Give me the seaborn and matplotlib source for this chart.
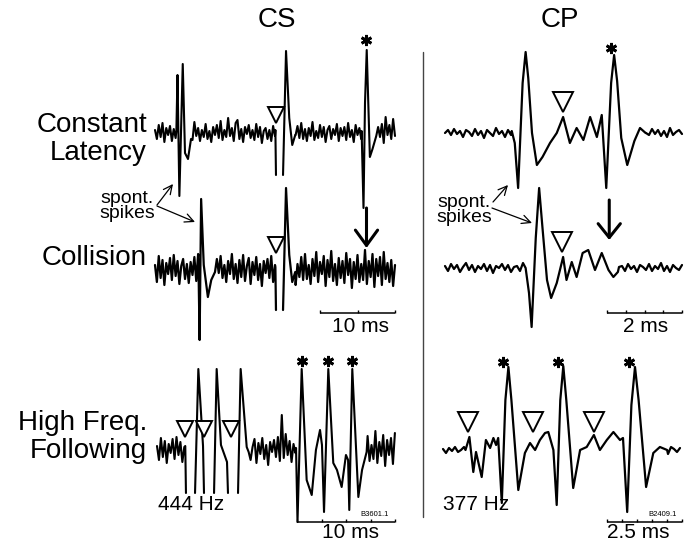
import numpy as np
import pandas as pd
import matplotlib
matplotlib.use("Agg")
import matplotlib.pyplot as plt
import seaborn as sns

sns.set_style("white")
plt.rcParams["font.family"] = ["Liberation Sans", "DejaVu Sans"]
plt.rcParams["text.color"] = "black"

# ---------------- data (time in ms, amplitude in arbitrary units) ----------------
# CS, constant latency
cs1_step = 0.25
cs1_noise = [3,-6,8,-4,10,-9,5,-2,7,-8, 4,-5,9,-3,6,-10,2,8,-6,4, -7,11,-3,5,-8,3,-4,9,-6,2,
             -9,6,-2,8,-5,12,-7,3,-4,15, -3,5,-8,10,13,-6,4,-9,6,-1, 8,-5,3,-7,9,-4,6,-10,2,5,
             -6,3,-8,7,-3,4,-5,9,-7,2, 6,-4,8,-9,3,-2,7,-5,10,-6, 4,-8,5,-3,11,-7,2,-5,8,-4,
             6,-9,3,7,-6,4,-2,9,-8,5, -3,6,-7,10,-4,3,-9,8,-2,5, -6,12,-5,7,-8,4,-3,13,-7,6,
             -4,9,-10,16,-2,8,-6,14,-3]
cs1_events = [
    ([2.85, 3.0, 3.25, 3.7, 4.0, 4.4, 4.8], [2, 58, -63, 69, -20, -26, -6]),
    ([16.05, 16.13, None, 17.07, 17.47, 17.9, 18.3, 18.7], [3, -42, None, -42, 82, 15, -12, -2]),
    ([27.55, 27.8, 28.0, 28.23, 28.65, 29.0, 29.5], [2, -75, 30, 83, -24, -16, -3]),
]
cs1_triangles_t, cs1_triangles_v = [16.07], [18]
cs1_stars_t, cs1_stars_v = [28.15], [93]

# CS, collision
cs2_step = 0.25
cs2_noise = [5,-12,14,-8,10,-15,7,-4,12,-10, 15,-6,9,-14,4,11,-9,6,-13,8, -5,13,-11,16,-7,3,-14,10,-6,12,
             -10,7,-15,11,-3,14,-8,5,-12,9, -4,16,-9,6,-13,10,-7,15,-11,4, 12,-14,8,-5,13,-10,6,-16,9,-3,
             11,-8,14,-12,5,-9,17,-6,10,-13, 7,-4,15,-11,9,-15,6,-7,13,-10, 16,-9,5,-14,11,-6,18,-12,8,-4,
             14,-16,10,-7,19,-11,6,-15,12,-8, 9,-13,17,-5,11,-18,8,-9,15,-12, 6,-10,20,-14,9,-7,16,-17,11,-6,
             13,-15,18,-9,7,-12,10,-16,5]
cs2_events = [
    ([5.8, 5.95, 6.15, 6.5, 7.05, 7.5, 8.0], [2, -70, 71, 5, -27, -10, -2]),
    ([16.05, 16.13, None, 17.07, 17.47, 17.9, 18.3, 18.7], [3, -40, None, -40, 82, 15, -12, -2]),
]
cs2_triangles_t, cs2_triangles_v = [16.07], [25]
cs2_arrow_t, cs2_arrow_from, cs2_arrow_to = 28.2, 62, 22
cs2_bar = (22.0, 10.0, -43)      # start, length (ms), level

# CS, high frequency following
cs3_step = 0.2
cs3_noise = [4,-10,12,-7,9,-13,6,-3,11,-9, 13,-5,8,-12,3,10,-8,5,-11,7, -4,12,-10,14,-6,2,-13,9,-5,11,
             -9,6,-14,10,-2,13,-7,4,-11,8, -3,15,-8,5,-12,9,-6,14,-10,3, 11,-13,7,-4,12,-9,5,-15,8,-2,
             10,-7,13,-11,35,-8,16,-5,9,-12, 6,-3,14,-10,8,-14,5,-6,12,-9, 15,-8,4,-13,10,-5,17,-11,7,-3,
             13,-15,9,-6,18,-10,5,-14,11,-7, 8,-12,16,-4,10,-17,7,-8,14,-11, 5,-9,19,-13,8,-6,15,-16,10,-5,
             12,-14,17]
cs3_events = [
    ([2.9, 2.97, None, 3.9, 4.24, 4.72, 4.82, None, 5.85, 6.12, 6.56, 7.18, 7.28, None, 8.31, 8.58, 9.2, 9.4],
     [4, -43, None, -43, 81, 4, -43, None, -43, 81, 5, -12, -43, None, -43, 81, 3, -2]),
    ([14.26, 14.41, 14.84, 15.35, 15.87, 16.3, 16.72, 16.92, 17.13, 17.57, 18.08, 18.46, 18.94, 19.38,
      19.6, 19.72, 20.03, 20.65, 21.03, 21.5],
     [2, -72, 81, -30, -45, 0, 20, 5, -62, 81, -13, -20, -37, -5, -10, -60, 81, -47, -20, -2]),
]
cs3_triangles_t, cs3_triangles_v = [2.92, 4.77, 7.54], [21, 21, 21]
cs3_stars_t, cs3_stars_v = [14.87, 17.54, 20.0], [89, 89, 89]
cs3_bar = (14.41, 10.0, -72)

# CP, constant latency
cp1_step = 0.08
cp1_noise = [0,3,-2,4,-1,2,-4,3,1,-3, 4,-2,2,-5,3,0,-3,5,-1,2, -4,3,-2,4,0,-3,2,-1,3,-4,
             2,5,-2,1,-3,4,-2,3,-1,2, -3,4,-1,2,-4,3,0,-2,4,-3, 1,3,-2,5,-1,2,-4,3,-2,1,
             4,-3,2,-1,3,-4,2,0,-2,4, -1,3,-3,2,-4,5,-2,1,3,-1]
cp1_events = [
    ([1.78, 1.86, 1.95, 2.07, 2.15, 2.22, 2.32, 2.45, 2.6, 2.8, 2.98, 3.15, 3.33, 3.51, 3.69, 3.87,
      4.05, 4.18, 4.3, 4.43, 4.51, 4.59, 4.7, 4.86, 5.05, 5.2, 5.35],
     [2, -10, -55, 50, 81, 55, 0, -32, -24, -10, 0, 16, -10, 5, -7, 16,
      -4, 18, -55, 50, 78, 52, -5, -32, -8, 5, 0]),
]
cp1_triangles_t, cp1_triangles_v = [3.14], [31]
cp1_stars_t, cp1_stars_v = [4.42], [85]

# CP, collision
cp2_step = 0.08
cp2_noise = [2,-3,4,-1,3,-4,1,5,-2,3, -4,2,-1,4,-3,3,-5,2,0,4, -2,3,-4,1,2,-3,5,-1,-3,4,
             -2,1,3,-4,2,-1,4,-3,2,0, -3,5,-2,3,-1,-4,2,4,-2,1, 3,-4,2,-1,4,-2,3,-5,1,2,
             -3,4,-1,2,-4,3,1,-2,4,-3, 2,-1,5,-3,2,-4,3,0,-2,3]
cp2_events = [
    ([2.15, 2.24, 2.31, 2.42, 2.51, 2.6, 2.72, 2.83, 2.98, 3.15, 3.24, 3.38, 3.51, 3.67, 3.82,
      4.0, 4.18, 4.36, 4.49, 4.61],
     [0, -25, -59, 30, 80, 40, -12, -30, -15, 11, -12, 6, -9, 15, 18, -2, 15, -2, -9, -4]),
]
cp2_triangles_t, cp2_triangles_v = [3.11], [26]
cp2_arrow_t, cp2_arrow_from, cp2_arrow_to = 4.38, 68, 28
cp2_bar = (4.32, 2.0, -45)

# CP, high frequency following
cp3_step = 0.1
cp3_noise = [1,-3,2,-1,3,-2,0,3,-3,2, -1,4,-2,1,-3,2,3,-1,-2,4, -3,2,0,-2,3,-1,4,-3,2,-1,
             3,-2,1,-4,2,3,-1,-2,4,-3, 1,2,-3,3,-1,0,4,-2,1,-3, 2,-1,3,-4,2,1,-2,3,-1,4,
             -3,2,-2,1,3,-1,-2,4,-3,2, 0,-1,3,-2,2,-4,3,1,-2,2]
cp3_events = [
    ([0.75, 0.88, 1.01, 1.1, 1.29, 1.43, 1.57, 1.68, 1.77, 1.84, 1.96, 2.08, 2.18, 2.28, 2.51, 2.73,
      2.9, 3.07, 3.23, 3.4, 3.51, 3.68, 3.79, 3.91, 4.01, 4.11, 4.34, 4.57, 4.79, 5.03, 5.23, 5.46,
      5.68, 5.9, 6.0, 6.14, 6.28, 6.4, 6.52, 6.77, 7.01, 7.23, 7.47],
     [0, 13, -22, -2, -27, 10, 2, 12, 5, 12, -53, 50, 83, 50, -40, -3,
      7, 0, 10, 17, 18, 0, -55, 50, 84, 50, -38, 0, 3, 15, 0, 10,
      18, 10, 12, -62, 45, 83, 50, -37, -3, 3, 0]),
]
cp3_triangles_t, cp3_triangles_v = [0.84, 3.01, 5.03], [28, 28, 28]
cp3_stars_t, cp3_stars_v = [2.01, 3.84, 6.21], [88, 88, 88]
cp3_bar = (5.47, 2.5, -72)

row_labels = ["Constant\nLatency", "Collision", "High Freq.\nFollowing"]
col_titles = ["CS", "CP"]

# ---------------- figure ----------------
W, H = 694, 544
fig = plt.figure(figsize=(W / 100, H / 100), dpi=100)


def build(noise, step, events):
    t = np.arange(len(noise)) * step
    pts = []
    i = 0
    for et, ev in sorted(events, key=lambda e: e[0][0]):
        while i < len(t) and t[i] < et[0]:
            pts.append((t[i], noise[i]))
            i += 1
        for a, b in zip(et, ev):
            pts.append(None if a is None else (a, b))
        hi = max(x for x in et if x is not None)
        while i < len(t) and t[i] <= hi:
            i += 1
    while i < len(t):
        pts.append((t[i], noise[i]))
        i += 1
    rows, seg = [], 0
    for p in pts:
        if p is None:
            seg += 1
            continue
        rows.append((p[0], p[1], seg))
    return pd.DataFrame(rows, columns=["t", "v", "seg"])


def panel(x0, px_ms, base, width_ms, top, bot):
    ax = fig.add_axes([x0 / W, 1 - bot / H, width_ms * px_ms / W, (bot - top) / H])
    return ax, (0, width_ms), (base - bot, base - top)


def draw_trace(ax, lims, noise, step, events, lw):
    df = build(noise, step, events)
    sns.lineplot(data=df, x="t", y="v", units="seg", estimator=None, sort=False,
                 color="black", lw=lw, ax=ax, legend=False, clip_on=False)
    ax.set_xlim(*lims[0])
    ax.set_ylim(*lims[1])
    ax.set_axis_off()


def triangles(ax, ts, vs, ms):
    ax.plot(ts, vs, ls="none", marker="v", ms=ms, mfc="white", mec="black", mew=1.4,
            clip_on=False, zorder=5)


def stars(ax, ts, vs, ms):
    ax.plot(ts, vs, ls="none", marker=(6, 2, 0), ms=ms, mec="black", mew=2.0,
            clip_on=False, zorder=5)


def scalebar(ax, bar, tick_step, tick_h=3.5):
    s, length, lev = bar
    ax.hlines(lev, s, s + length, color="black", lw=1.1, clip_on=False)
    ticks = np.arange(0, length + 1e-6, tick_step) + s
    ax.vlines(ticks, lev, lev + tick_h, color="black", lw=1.0, clip_on=False)


def ftext(px, py, s, **kw):
    fig.text(px / W, 1 - py / H, s, color="black", **kw)


def fig_arrow(p0, p1, lw=0.9, head="->,head_length=0.45,head_width=0.22", ms=14):
    fig.add_artist(matplotlib.patches.FancyArrowPatch(
        (p0[0] / W, 1 - p0[1] / H), (p1[0] / W, 1 - p1[1] / H),
        transform=fig.transFigure, arrowstyle=head, mutation_scale=ms,
        lw=lw, color="black", shrinkA=0, shrinkB=0))


# CS panels
ax1, *l1 = panel(155, 7.5, 133, 32, 30, 200)
draw_trace(ax1, l1, cs1_noise, cs1_step, cs1_events, 1.5)
triangles(ax1, cs1_triangles_t, cs1_triangles_v, 11.5)
stars(ax1, cs1_stars_t, cs1_stars_v, 8)

ax2, *l2 = panel(155, 7.5, 270, 32, 200, 340)
draw_trace(ax2, l2, cs2_noise, cs2_step, cs2_events, 1.6)
triangles(ax2, cs2_triangles_t, cs2_triangles_v, 11.5)
ax2.annotate("", xy=(cs2_arrow_t, cs2_arrow_to), xytext=(cs2_arrow_t, cs2_arrow_from),
             arrowprops=dict(arrowstyle="->,head_length=0.55,head_width=0.4", mutation_scale=20,
                             lw=2.2, color="black", shrinkA=0, shrinkB=0), annotation_clip=False)
scalebar(ax2, cs2_bar, 5.0)

ax3, *l3 = panel(157, 9.75, 450, 24.41, 350, 544)
draw_trace(ax3, l3, cs3_noise, cs3_step, cs3_events, 1.5)
triangles(ax3, cs3_triangles_t, cs3_triangles_v, 11.5)
stars(ax3, cs3_stars_t, cs3_stars_v, 8)
scalebar(ax3, cs3_bar, 2.5)

# CP panels
ax4, *l4 = panel(445, 37.5, 133, 6.32, 30, 200)
draw_trace(ax4, l4, cp1_noise, cp1_step, cp1_events, 1.6)
triangles(ax4, cp1_triangles_t, cp1_triangles_v, 14)
stars(ax4, cp1_stars_t, cp1_stars_v, 8)

ax5, *l5 = panel(445, 37.5, 268, 6.32, 200, 340)
draw_trace(ax5, l5, cp2_noise, cp2_step, cp2_events, 1.6)
triangles(ax5, cp2_triangles_t, cp2_triangles_v, 14)
ax5.annotate("", xy=(cp2_arrow_t, cp2_arrow_to), xytext=(cp2_arrow_t, cp2_arrow_from),
             arrowprops=dict(arrowstyle="->,head_length=0.5,head_width=0.4", mutation_scale=20,
                             lw=2.2, color="black", shrinkA=0, shrinkB=0), annotation_clip=False)
scalebar(ax5, cp2_bar, 0.5)

ax6, *l6 = panel(443, 30, 450, 7.97, 350, 544)
draw_trace(ax6, l6, cp3_noise, cp3_step, cp3_events, 1.6)
triangles(ax6, cp3_triangles_t, cp3_triangles_v, 14)
stars(ax6, cp3_stars_t, cp3_stars_v, 8)
scalebar(ax6, cp3_bar, 0.5)

# divider
fig.add_artist(matplotlib.lines.Line2D([423 / W, 423 / W], [1 - 52 / H, 1 - 517 / H],
                                       transform=fig.transFigure, color="#444444", lw=1.0))

# texts
big = 20
ftext(277, 20, col_titles[0], ha="center", va="center", fontsize=big)
ftext(560, 20, col_titles[1], ha="center", va="center", fontsize=big)
ftext(147, 139, row_labels[0], ha="right", va="center", fontsize=big, linespacing=1.15)
ftext(147, 258, row_labels[1], ha="right", va="center", fontsize=big)
ftext(147, 437, row_labels[2], ha="right", va="center", fontsize=big, linespacing=1.05)

small = 14
ftext(127, 206, "spont.\nspikes", ha="center", va="center", fontsize=small, linespacing=0.85)
ftext(464, 210, "spont.\nspikes", ha="center", va="center", fontsize=small, linespacing=0.85)
fig_arrow((157, 205), (173, 184))
fig_arrow((157, 206), (195, 222))
fig_arrow((493, 202), (508, 185))
fig_arrow((492, 208), (532, 223))

ftext(361, 327, "10 ms", ha="center", va="center", fontsize=15)
ftext(646, 327, "2 ms", ha="center", va="center", fontsize=15)
ftext(158, 505, "444 Hz", ha="left", va="center", fontsize=15)
ftext(443, 505, "377 Hz", ha="left", va="center", fontsize=15)
ftext(351, 532, "10 ms", ha="center", va="center", fontsize=15)
ftext(638, 532, "2.5 ms", ha="center", va="center", fontsize=15)
ftext(375, 515, "B3601.1", ha="center", va="center", fontsize=5.5)
ftext(663, 515, "B2409.1", ha="center", va="center", fontsize=5.5)

fig.savefig("out.png", dpi=100, facecolor="white")
